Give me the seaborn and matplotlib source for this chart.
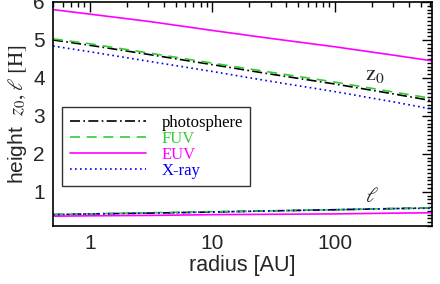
import numpy as np
import pandas as pd
import seaborn as sns
import matplotlib
matplotlib.use("Agg")
import matplotlib.pyplot as plt
from matplotlib.ticker import MultipleLocator, LogLocator, NullFormatter, FixedLocator

sns.set_theme(style="white")
plt.rcParams['font.family'] = ['Liberation Sans', 'DejaVu Sans']
plt.rcParams['mathtext.fontset'] = 'stix'

radius = [0.5, 1, 3, 10, 30, 100, 300, 620]
z0_photo = [5.00, 4.86, 4.62, 4.35, 4.10, 3.84, 3.58, 3.40]
z0_fuv   = [5.03, 4.90, 4.66, 4.39, 4.15, 3.89, 3.63, 3.46]
z0_euv   = [5.80, 5.68, 5.49, 5.25, 5.04, 4.82, 4.60, 4.45]
z0_xray  = [4.84, 4.69, 4.44, 4.17, 3.91, 3.64, 3.37, 3.18]
l_photo  = [0.40, 0.42, 0.44, 0.47, 0.50, 0.53, 0.56, 0.58]
l_fuv    = [0.41, 0.42, 0.45, 0.48, 0.50, 0.53, 0.56, 0.58]
l_euv    = [0.36, 0.37, 0.38, 0.40, 0.41, 0.42, 0.44, 0.45]
l_xray   = [0.40, 0.42, 0.44, 0.47, 0.50, 0.53, 0.56, 0.57]

labels = ["photosphere", "FUV", "EUV", "X-ray"]
colors = ["black", "#33cc33", "#ff00ff", "#0000ee"]
styles = [(0, (6, 2, 1, 2)), (0, (6, 4)), "-", (0, (1, 2))]
z0s = [z0_photo, z0_fuv, z0_euv, z0_xray]
ls_ = [l_photo, l_fuv, l_euv, l_xray]

fig = plt.figure(figsize=(4.4, 2.84), dpi=100)
ax = fig.add_axes([0.1205, 0.204, 0.8615, 0.789])

for lab, c, st, z, l in zip(labels, colors, styles, z0s, ls_):
    df = pd.DataFrame({"r": radius, "z": z, "l": l})
    sns.lineplot(data=df, x="r", y="z", ax=ax, color=c, lw=1.2, linestyle=st, label=lab)
    sns.lineplot(data=df, x="r", y="l", ax=ax, color=c, lw=1.2, linestyle=st, label="_nolegend_")

ax.set_xscale("log")
ax.set_xlim(0.5, 620)
ax.set_ylim(0.1, 6.0)

ax.xaxis.set_major_locator(FixedLocator([1, 10, 100]))
ax.set_xticklabels(["1", "10", "100"])
ax.xaxis.set_minor_locator(LogLocator(base=10, subs=np.arange(2, 10), numticks=20))
ax.xaxis.set_minor_formatter(NullFormatter())
ax.yaxis.set_major_locator(MultipleLocator(1))
ax.yaxis.set_minor_locator(MultipleLocator(0.1))

ax.tick_params(which="both", direction="in", top=True, right=True, color="black")
ax.tick_params(which="major", length=7, width=1, labelsize=15, pad=6)
ax.tick_params(which="minor", length=3.5, width=1)
for s in ax.spines.values():
    s.set_color("black")
    s.set_linewidth(1.2)

ax.set_xlabel("radius [AU]", fontsize=15.5, labelpad=1)
ax.set_ylabel(r"height  $z_0, \ell$ $\mathrm{[H]}$", fontsize=15, labelpad=3)

ax.text(213, 4.08, r"$\mathrm{z}_0$", fontsize=16, ha="center", va="center")
ax.text(200, 0.88, r"$\ell$", fontsize=15, ha="center", va="center")

leg = ax.legend(loc="upper left", bbox_to_anchor=(0.024, 0.531), frameon=True, fancybox=False,
                edgecolor="black", handlelength=4.6, handletextpad=0.9,
                prop={"family": "Liberation Serif", "size": 12}, borderpad=0.45,
                borderaxespad=0, labelspacing=0.0)
leg.get_frame().set_linewidth(1.0)
for t, c in zip(leg.get_texts(), colors):
    t.set_color(c)

fig.savefig("out.png", dpi=100)
